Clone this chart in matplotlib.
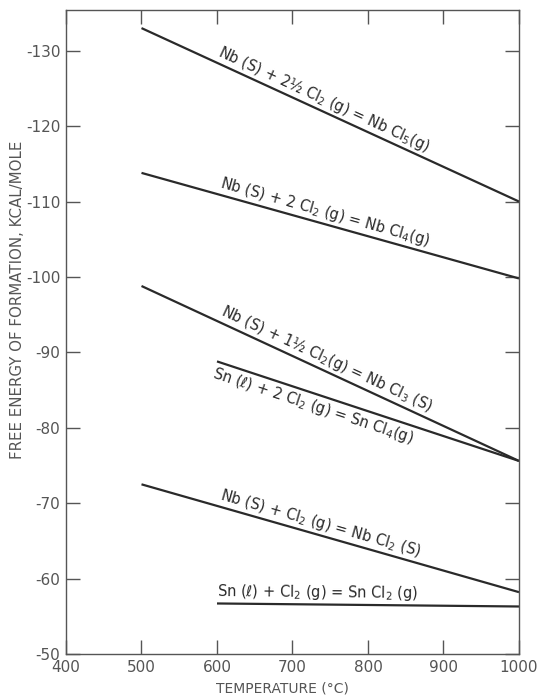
import numpy as np
import matplotlib
matplotlib.use("Agg")
import matplotlib.pyplot as plt
from matplotlib.transforms import offset_copy

# ---- data ----
labels = [
    "Nb (S) + 2½ Cl$_2$ (g) = Nb Cl$_5$(g)",
    "Nb (S) + 2 Cl$_2$ (g) = Nb Cl$_4$(g)",
    "Nb (S) + 1½ Cl$_2$(g) = Nb Cl$_3$ (S)",
    "Sn (ℓ) + 2 Cl$_2$ (g) = Sn Cl$_4$(g)",
    "Nb (S) + Cl$_2$ (g) = Nb Cl$_2$ (S)",
    "Sn (ℓ) + Cl$_2$ (g) = Sn Cl$_2$ (g)",
]
t_start = [500, 500, 500, 600, 500, 600]
t_end = [1000, 1000, 1000, 1000, 1000, 1000]
g_start = [-133.0, -113.8, -98.8, -88.8, -72.5, -56.7]
g_end = [-110.0, -99.8, -75.6, -75.6, -58.2, -56.3]
label_t = [596, 600, 600, 600, 600, 600]
label_side = ["above", "above", "above", "below", "above", "above"]

x_ticks = [400, 500, 600, 700, 800, 900, 1000]
y_ticks = [-50, -60, -70, -80, -90, -100, -110, -120, -130]
y_ticklabels = ["-50", "-60", "-70", "-80", "-90", "-100", "-110", "-120", "-130"]

ink = "#2a2a2a"
plt.rcParams["font.family"] = ["DejaVu Sans"]
plt.rcParams["mathtext.fontset"] = "dejavusans"

fig = plt.figure(figsize=(5.41, 6.97), dpi=100)
ax = fig.add_axes([66 / 541, 1 - 654 / 697, (519 - 66) / 541, (654 - 10) / 697])
ax.set_xlim(400, 1000)
ax.set_ylim(-50, -135.4)

for s in ax.spines.values():
    s.set_color("#555555")
    s.set_linewidth(1.0)

ax.set_xticks(x_ticks)
ax.set_yticks(y_ticks)
ax.set_yticklabels(y_ticklabels)
ax.tick_params(direction="in", length=10, width=1.0, color="#555555",
               top=True, right=True, labelsize=11, labelcolor="#555555", pad=4)

for i in range(len(labels)):
    ax.plot([t_start[i], t_end[i]], [g_start[i], g_end[i]], color=ink, lw=1.6,
            solid_capstyle="butt")

fig.canvas.draw()
for i in range(len(labels)):
    p0 = ax.transData.transform((t_start[i], g_start[i]))
    p1 = ax.transData.transform((t_end[i], g_end[i]))
    ang = np.degrees(np.arctan2(p1[1] - p0[1], p1[0] - p0[0]))
    frac = (label_t[i] - t_start[i]) / (t_end[i] - t_start[i])
    gy = g_start[i] + frac * (g_end[i] - g_start[i])
    d = 1.5 if label_side[i] == "above" else -2.0
    th = np.radians(ang)
    tr = offset_copy(ax.transData, fig=fig, x=-np.sin(th) * d, y=np.cos(th) * d, units="points")
    ax.text(label_t[i], gy, labels[i], transform=tr, rotation=ang, rotation_mode="anchor",
            ha="left", va="bottom" if label_side[i] == "above" else "top",
            fontsize=10.5, color=ink)

fig.text(18 / 541, 1 - 300 / 697, "FREE ENERGY OF FORMATION, KCAL/MOLE", rotation=90,
         ha="center", va="center", fontsize=10.8, color="#555555")
fig.text(282 / 541, 1 - 688 / 697, "TEMPERATURE (°C)", ha="center", va="center",
         fontsize=10, color="#555555")

fig.savefig("out.png", dpi=100)
